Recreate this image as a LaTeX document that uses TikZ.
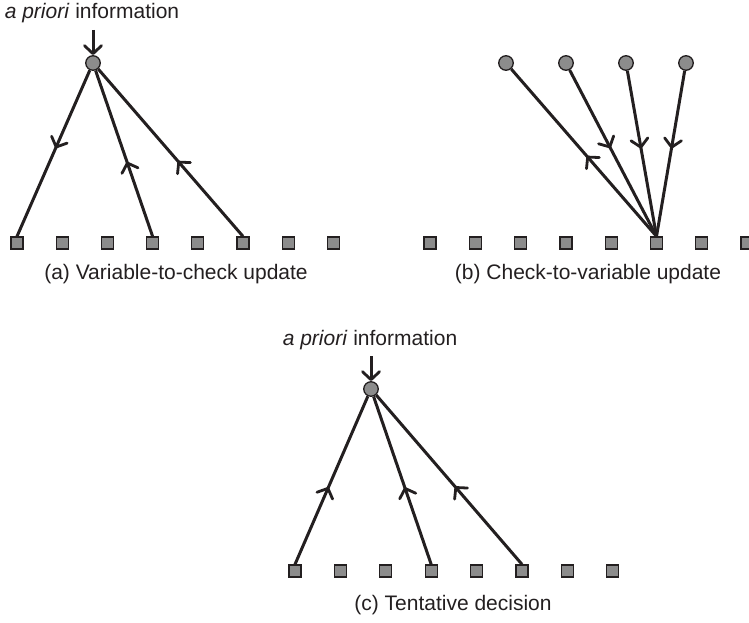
\documentclass[tikz,border=0pt]{standalone}
\usepackage{fontspec}
\setmainfont{Liberation Sans}
\usetikzlibrary{arrows.meta,decorations.markings}
\definecolor{ink}{HTML}{231F20}
\definecolor{nodegray}{HTML}{8C8C8C}
\tikzset{
  chk/.style={draw=ink, fill=nodegray, line width=1.3pt, minimum size=12pt, inner sep=0pt},
  var/.style={circle, draw=ink, fill=nodegray, line width=1.3pt, minimum size=14.5pt, inner sep=0pt},
  edge/.style={draw=ink, line width=3pt},
  barb/.tip={Straight Barb[length=8pt,width=17pt,line width=2.8pt,round]},
  midarrow/.style={edge, postaction={decorate},
    decoration={markings, mark=at position #1 with {\arrow{barb}}}},
  lbl/.style={font=\fontsize{21}{25}\selectfont, text=ink, inner sep=0pt},
}
\begin{document}
\begin{tikzpicture}[x=1pt,y=-1pt]
\useasboundingbox (0,0) rectangle (749,623);

% (a) variable-to-check update
\node[lbl] (pa) at (92,13) {\textit{a priori} information};
\coordinate (pa-in) at (93,30);
\node[var] (va) at (93,63) {};
\foreach \i in {1,...,8}
  \node[chk] (a\i) at ({17+45.2*(\i-1)},243) {};
\draw[edge,-barb] (pa-in) -- (va);
\draw[midarrow=0.47] (va) -- (a1.north);
\draw[midarrow=0.45] (a4.north) -- (va);
\draw[midarrow=0.45] (a6.north) -- (va);
\node[lbl] (capa) at (176,274) {(a) Variable-to-check update};

% (b) check-to-variable update
\foreach \i/\x in {1/506,2/566,3/626,4/686}
  \node[var] (v\i) at (\x,63) {};
\foreach \i in {1,...,8}
  \node[chk] (b\i) at ({430+45.3*(\i-1)},243) {};
\draw[midarrow=0.48] (b6.north) -- (v1);
\draw[midarrow=0.47] (v2) -- (b6.north);
\draw[midarrow=0.47] (v3) -- (b6.north);
\draw[midarrow=0.47] (v4) -- (b6.north);
\node[lbl] (capb) at (588,274) {(b) Check-to-variable update};

% (c) tentative decision
\node[lbl] (pc) at (370,340) {\textit{a priori} information};
\coordinate (pc-in) at (371,356);
\node[var] (vc) at (371,389) {};
\foreach \i in {1,...,8}
  \node[chk] (c\i) at ({295+45.4*(\i-1)},571) {};
\draw[edge,-barb] (pc-in) -- (vc);
\draw[midarrow=0.46] (c1.north) -- (vc);
\draw[midarrow=0.46] (c4.north) -- (vc);
\draw[midarrow=0.46] (c6.north) -- (vc);
\node[lbl] (capc) at (453,605) {(c) Tentative decision};
\end{tikzpicture}
\end{document}
